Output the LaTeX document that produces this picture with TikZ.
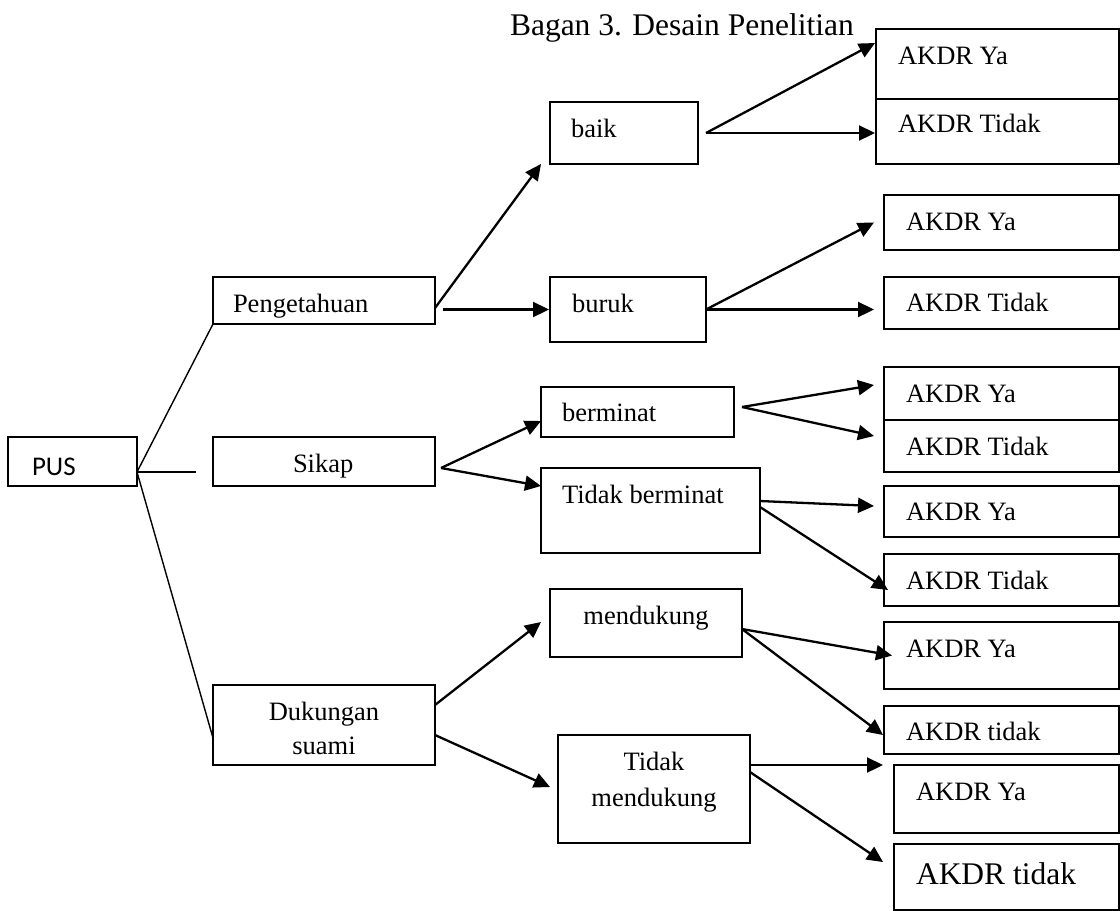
\documentclass[tikz,border=0pt]{standalone}
\usepackage{fontspec}
\setmainfont{Liberation Serif}
\newfontfamily\pusfont{Carlito}
\usetikzlibrary{arrows.meta,calc}
\tikzset{
  box/.style={draw=black, line width=1.6pt, inner sep=0pt, outer sep=0pt, anchor=north west},
  txt/.style={inner sep=0pt, outer sep=0pt, font=\fontsize{26.5}{30}\selectfont},
  bigtxt/.style={inner sep=0pt, outer sep=0pt, font=\fontsize{31.5}{36}\selectfont},
  arr/.style={line width=2.3pt, -{Triangle[length=16pt,width=15pt]}},
  ln/.style={line width=1.4pt}
}
\newcommand\bx[5]{\node[box, minimum width=#4pt, minimum height=#5pt] (#1) at (#2,#3) {};}
\begin{document}
\begin{tikzpicture}[x=1pt,y=-1pt]
\useasboundingbox (0,0) rectangle (1120,911);
% title
\node[bigtxt, anchor=base west] (title) at (510,35) {Bagan 3. Desain Penelitian};
% boxes
\bx{pus}{8}{437}{129}{49}
\bx{peng}{213}{277}{222}{47}
\bx{sikap}{213}{437}{222}{49}
\bx{duk}{213}{685}{222}{80}
\bx{baik}{550}{102}{148}{62}
\bx{buruk}{550}{277}{156}{65}
\bx{berminat}{541}{387}{193}{50}
\bx{tberminat}{541}{468}{219}{85}
\bx{mend}{550}{589}{192}{68}
\bx{tmend}{558}{735}{192}{108}
\bx{ya1}{876}{29}{243}{70}
\bx{td1}{876}{99}{243}{65}
\bx{ya2}{884}{195}{235}{55}
\bx{td2}{884}{277}{235}{52}
\bx{ya3}{884}{367}{235}{53}
\bx{td3}{884}{420}{235}{52}
\bx{ya4}{884}{486}{235}{51}
\bx{td4}{884}{554}{235}{52}
\bx{ya5}{884}{622}{235}{67}
\bx{td5}{884}{706}{235}{48}
\bx{ya6}{894}{765}{225}{68}
\bx{td6}{894}{844}{225}{66}
% texts
\node[txt, anchor=base west, font=\pusfont\fontsize{27}{30}\selectfont] (tpus) at (32,475) {PUS};
\node[txt, anchor=base west] (tpeng) at (233,312) {Pengetahuan};
\node[txt, anchor=base west] (tsikap) at (293,472) {Sikap};
\node[txt, anchor=base] (tduk1) at (324,720) {Dukungan};
\node[txt, anchor=base] (tduk2) at (324,754) {suami};
\node[txt, anchor=base west] (tbaik) at (571,137) {baik};
\node[txt, anchor=base west] (tburuk) at (572,312) {buruk};
\node[txt, anchor=base west] (tberm) at (562,421) {berminat};
\node[txt, anchor=base west] (ttberm) at (562,503) {Tidak berminat};
\node[txt, anchor=base] (tmend1) at (646,624) {mendukung};
\node[txt, anchor=base] (ttmend1) at (654,770) {Tidak};
\node[txt, anchor=base] (ttmend2) at (654,806) {mendukung};
\node[txt, anchor=base west] (tya1) at (898,64) {AKDR Ya};
\node[txt, anchor=base west] (ttd1) at (898,132) {AKDR Tidak};
\node[txt, anchor=base west] (tya2) at (906,230) {AKDR Ya};
\node[txt, anchor=base west] (ttd2) at (906,311) {AKDR Tidak};
\node[txt, anchor=base west] (tya3) at (906,402) {AKDR Ya};
\node[txt, anchor=base west] (ttd3) at (906,455) {AKDR Tidak};
\node[txt, anchor=base west] (tya4) at (906,520) {AKDR Ya};
\node[txt, anchor=base west] (ttd4) at (906,589) {AKDR Tidak};
\node[txt, anchor=base west] (tya5) at (906,657) {AKDR Ya};
\node[txt, anchor=base west] (ttd5) at (906,740) {AKDR tidak};
\node[txt, anchor=base west] (tya6) at (916,800) {AKDR Ya};
\node[bigtxt, anchor=base west] (ttd6) at (916,884) {AKDR tidak};
% PUS branching lines
\coordinate (pj) at ($(pus.east)+(0,10.5)$);
\coordinate (pgap) at ($(sikap.west)+(-17,10.5)$);
\draw[ln] (pj) -- (peng.south west);
\draw[ln] (pj) -- (pgap);
\draw[ln] (pj) -- ($(duk.west)+(0,13)$);
% arrows level 1
\draw[arr] ($(peng.east)+(0,7.5)$) -- ($(baik.south west)+(-9,0)$);
\draw[arr] ($(peng.east)+(8,9)$) -- ($(buruk.west)+(-1,0)$);
\draw[arr] ($(sikap.east)+(6,6.5)$) -- ($(berminat.south west)+(0,-16)$);
\draw[arr] ($(sikap.east)+(6,6.5)$) -- ($(tberminat.north west)+(0,18)$);
\draw[arr] ($(duk.east)+(0,-20)$) -- ($(mend.west)+(-9,-1)$);
\draw[arr] ($(duk.east)+(0,10)$) -- ($(tmend.west)+(-8,-2)$);
% arrows level 2
\draw[arr] ($(baik.east)+(8,0)$) -- ($(ya1.west)+(-1,-21)$);
\draw[arr] ($(baik.east)+(8,0)$) -- ($(td1.west)+(-1,1.5)$);
\draw[arr] (buruk.east) -- ($(ya2.west)+(-10,0)$);
\draw[arr] (buruk.east) -- ($(td2.west)+(-10,6.5)$);
\draw[arr] ($(berminat.east)+(8,-5)$) -- ($(ya3.west)+(-10,-8.5)$);
\draw[arr] ($(berminat.east)+(8,-5)$) -- ($(td3.west)+(-10,-10)$);
\draw[arr] ($(tberminat.east)+(0,-9.5)$) -- ($(ya4.west)+(-10,-5.5)$);
\draw[arr] ($(tberminat.east)+(0,-3.5)$) -- ($(td4.west)+(4,10)$);
\draw[arr] ($(mend.east)+(0,6)$) -- ($(ya5.west)+(8,0)$);
\draw[arr] ($(mend.east)+(0,6)$) -- ($(td5.west)+(-1,5)$);
\draw[arr] ($(tmend.east)+(0,-24)$) -- ($(ya6.north west)+(-11,0)$);
\draw[arr] ($(tmend.east)+(0,-17)$) -- ($(td6.west)+(-11,-15)$);
\end{tikzpicture}
\end{document}
